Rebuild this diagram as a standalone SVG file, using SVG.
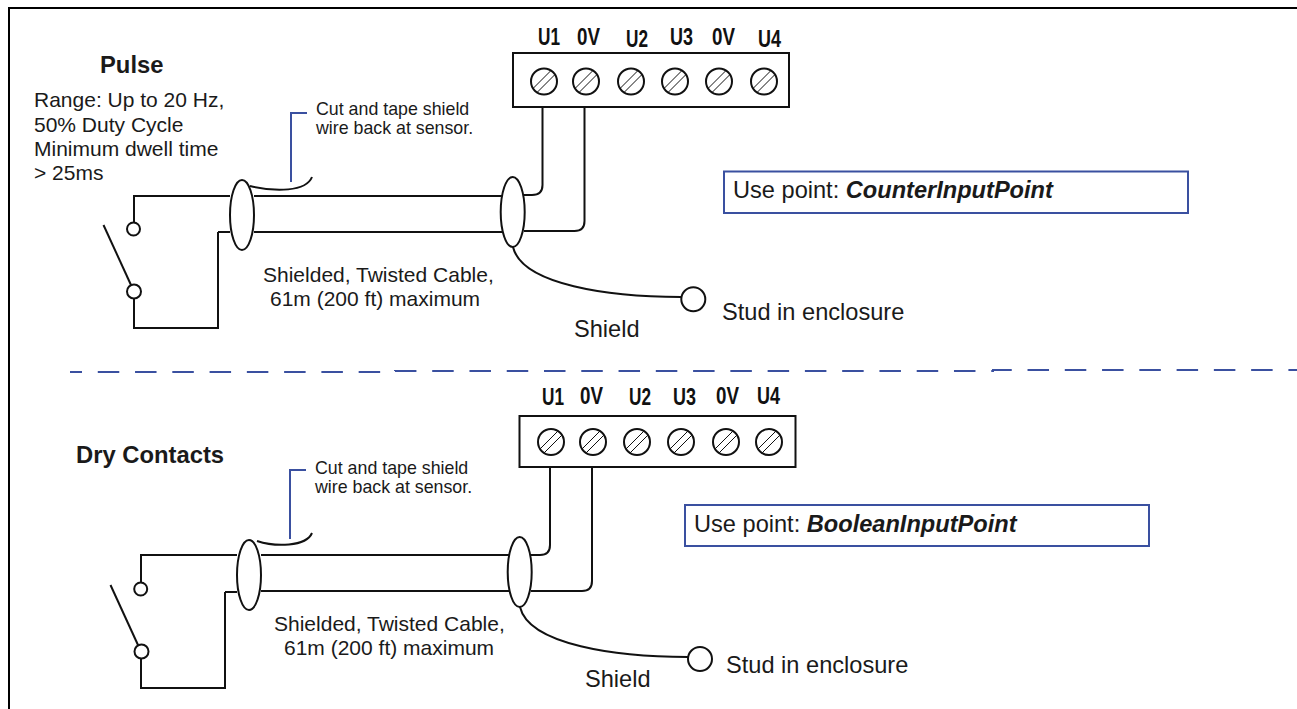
<svg xmlns="http://www.w3.org/2000/svg" width="1297" height="709" viewBox="0 0 1297 709">
<style>
text{font-family:"Liberation Sans",Arial,sans-serif;fill:#1a1a1a}
.b{font-weight:bold}
.t{font-size:21px}
.s{font-size:17.800px}
.h{font-size:23.800px;font-weight:bold}
.m{font-size:23.600px}
.lab{font-size:23px;font-weight:bold;fill:#111}
.w{fill:none;stroke:#111;stroke-width:2}
.c{fill:#fff;stroke:#111;stroke-width:2}
.bl{fill:none;stroke:#3a50a0;stroke-width:2}
.d{fill:none;stroke:#3a50a0;stroke-width:2;stroke-dasharray:21.500 15.770;stroke-dashoffset:9.500}
.sl{stroke:#111;stroke-width:1}
</style>
<defs>
<g id="screw"><circle class="c" r="13"/><path class="sl" d="M-11 7L7-11M-7 11L11-7"/></g>
</defs>
<rect id="frame" x="9" y="8" width="1300" height="720" fill="none" stroke="#000" stroke-width="2"/>
<g id="connectors">
<path class="d" d="M70 372H395V371H993V370H1297"/>
<path class="w" d="M230 196H134V223M218 232H230M254 196H512M254 232H512M134 298V328H218V232"/>
<path class="w" d="M524 195H532Q542.500 195 542.500 185V94"/>
<path class="w" d="M524 231H574.500Q584.500 231 584.500 221V94"/>
<path class="w" d="M103.500 225L131 285"/>
<path class="w" d="M250 186C275 192 306 192 312 177"/>
<path class="w" d="M513 247C522 285 610 297 681 297"/>
<path class="bl" d="M307 113H291V182"/>
<path class="w" d="M237 555H141V583M225 592H237M261 555H520M261 591H520M141 658V688H225V592"/>
<path class="w" d="M531 555H540Q550 555 550 545V455"/>
<path class="w" d="M531 591H582Q592 591 592 581V455"/>
<path class="w" d="M110.500 585L138 645"/>
<path class="w" d="M257 541C275 547 306 547 312 533"/>
<path class="w" d="M520 607C529 645 617 657 688 657"/>
<path class="bl" d="M306 470H290V539"/>
</g>
<g id="pulse-title"><text class="h" x="100" y="73">Pulse</text></g>
<g id="pulse-range" class="t">
<text x="34" y="107">Range: Up to 20 Hz,</text>
<text x="34" y="132">50% Duty Cycle</text>
<text x="34" y="156">Minimum dwell time</text>
<text x="34" y="180">&gt; 25ms</text>
</g>
<g id="terminal-top">
<rect class="c" x="513" y="53" width="276" height="54"/>
<use href="#screw" x="544" y="81.500"/><use href="#screw" x="586" y="81.500"/><use href="#screw" x="631" y="81.500"/><use href="#screw" x="675" y="81.500"/><use href="#screw" x="719" y="81.500"/><use href="#screw" x="764" y="81.500"/>
<text class="lab" x="538" y="45" textLength="22" lengthAdjust="spacingAndGlyphs">U1</text>
<text class="lab" x="577" y="45" textLength="23" lengthAdjust="spacingAndGlyphs">0V</text>
<text class="lab" x="626" y="46.500" textLength="22" lengthAdjust="spacingAndGlyphs">U2</text>
<text class="lab" x="670" y="45" textLength="23" lengthAdjust="spacingAndGlyphs">U3</text>
<text class="lab" x="712" y="45" textLength="23" lengthAdjust="spacingAndGlyphs">0V</text>
<text class="lab" x="758" y="46.500" textLength="23" lengthAdjust="spacingAndGlyphs">U4</text>
</g>
<g id="cut-note-top" class="s">
<text x="316" y="115">Cut and tape shield</text>
<text x="316" y="134">wire back at sensor.</text>
</g>
<g id="switch-top"><circle class="c" cx="133.500" cy="229" r="6.500"/><circle class="c" cx="134" cy="291.500" r="7"/></g>
<g id="shield-left-top"><ellipse class="c" cx="242" cy="215" rx="12" ry="35"/></g>
<g id="shield-right-top"><ellipse class="c" cx="512.700" cy="212" rx="12" ry="35"/></g>
<g id="cable-label-top" class="t">
<text x="263" y="282">Shielded, Twisted Cable,</text>
<text x="270" y="306">61m (200 ft) maximum</text>
</g>
<g id="stud-top"><circle class="c" cx="693.300" cy="299.300" r="12"/><text class="m" x="722" y="320">Stud in enclosure</text></g>
<g id="shield-label-top"><text class="m" x="574" y="337">Shield</text></g>
<g id="use-top"><rect class="bl" x="724" y="171.500" width="464" height="41.500"/><text class="m" x="733" y="198">Use point: <tspan class="b" font-style="italic">CounterInputPoint</tspan></text></g>
<g id="dry-title"><text class="h" x="76" y="463">Dry Contacts</text></g>
<g id="terminal-bottom">
<rect class="c" x="519.500" y="416" width="276" height="51"/>
<use href="#screw" x="551" y="442"/><use href="#screw" x="593" y="442"/><use href="#screw" x="637" y="442"/><use href="#screw" x="681" y="442"/><use href="#screw" x="726" y="442"/><use href="#screw" x="769" y="442"/>
<text class="lab" x="542" y="405" textLength="22" lengthAdjust="spacingAndGlyphs">U1</text>
<text class="lab" x="580" y="404" textLength="23" lengthAdjust="spacingAndGlyphs">0V</text>
<text class="lab" x="629" y="405" textLength="22" lengthAdjust="spacingAndGlyphs">U2</text>
<text class="lab" x="673" y="405" textLength="23" lengthAdjust="spacingAndGlyphs">U3</text>
<text class="lab" x="716" y="404" textLength="23" lengthAdjust="spacingAndGlyphs">0V</text>
<text class="lab" x="757" y="404" textLength="23" lengthAdjust="spacingAndGlyphs">U4</text>
</g>
<g id="cut-note-bottom" class="s">
<text x="315" y="474">Cut and tape shield</text>
<text x="315" y="493">wire back at sensor.</text>
</g>
<g id="switch-bottom"><circle class="c" cx="140.700" cy="589" r="6.500"/><circle class="c" cx="141.500" cy="651.500" r="7"/></g>
<g id="shield-left-bottom"><ellipse class="c" cx="249" cy="575" rx="12" ry="35"/></g>
<g id="shield-right-bottom"><ellipse class="c" cx="519.700" cy="572" rx="12" ry="35"/></g>
<g id="cable-label-bottom" class="t">
<text x="274" y="631">Shielded, Twisted Cable,</text>
<text x="284" y="655">61m (200 ft) maximum</text>
</g>
<g id="stud-bottom"><circle class="c" cx="700" cy="659" r="12"/><text class="m" x="726" y="673">Stud in enclosure</text></g>
<g id="shield-label-bottom"><text class="m" x="585" y="687">Shield</text></g>
<g id="use-bottom"><rect class="bl" x="685" y="505" width="464" height="41"/><text class="m" x="694" y="532">Use point: <tspan class="b" font-style="italic">BooleanInputPoint</tspan></text></g>
</svg>
